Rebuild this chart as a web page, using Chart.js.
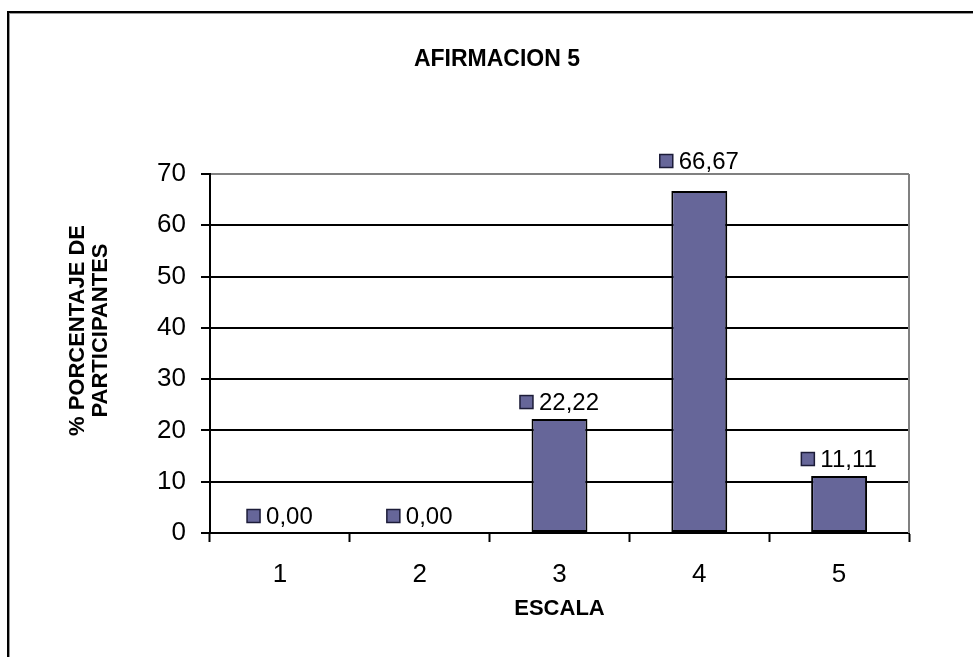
<!DOCTYPE html>
<html>
<head>
<meta charset="utf-8">
<script src="https://cdn.jsdelivr.net/npm/chart.js@4/dist/chart.umd.min.js"></script>
<style>
  html, body { margin: 0; padding: 0; background: #fff; }
  #wrap { position: relative; width: 973px; height: 657px; overflow: hidden; }
  #frame { position: absolute; left: 7px; top: 11px; width: 1200px; height: 900px;
           border-left: 2px solid #000; border-top: 2px solid #000;
           box-shadow: inset 1px 1px 0 #999; }
  canvas { position: absolute; left: 0; top: 0; }
</style>
</head>
<body>
<div id="wrap">
  <div id="frame"></div>
  <canvas id="c" width="973" height="657"></canvas>
</div>
<script>
const chartTitle = 'AFIRMACION 5';
const xAxisTitle = 'ESCALA';
const yAxisTitleLines = ['% PORCENTAJE DE', 'PARTICIPANTES'];
const categories = ['1', '2', '3', '4', '5'];
const percentValues = [0.00, 0.00, 22.22, 66.67, 11.11];
const yTickMin = 0;
const yTickMax = 70;
const yTickStep = 10;

const BAR_FILL = '#666699';
const FONT = '"Liberation Sans", Arial, sans-serif';

function fmt(v) { return v.toFixed(2).replace('.', ','); }

const decorPlugin = {
  id: 'decor',
  afterDraw(chart) {
    const ctx = chart.ctx;
    const a = chart.chartArea;
    ctx.save();
    // right border of plot area (gray)
    ctx.strokeStyle = '#808080';
    ctx.lineWidth = 2;
    ctx.beginPath();
    ctx.moveTo(a.right, a.top);
    ctx.lineTo(a.right, a.bottom);
    ctx.stroke();

    // chart title
    ctx.fillStyle = '#000';
    ctx.textAlign = 'center';
    ctx.textBaseline = 'middle';
    ctx.font = 'bold 23px ' + FONT;
    ctx.fillText(chartTitle, 497, 60);

    // x axis title
    ctx.font = 'bold 22px ' + FONT;
    ctx.fillText(xAxisTitle, (a.left + a.right) / 2, a.bottom + 76);

    // y axis title (rotated, two lines)
    ctx.save();
    ctx.translate(a.left - 121, (a.top + a.bottom) / 2 - 23);
    ctx.rotate(-Math.PI / 2);
    ctx.fillText(yAxisTitleLines[0], 0, -11);
    ctx.fillText(yAxisTitleLines[1], 0, 12);
    ctx.restore();

    // data labels with legend key square
    const meta = chart.getDatasetMeta(0);
    ctx.font = '24px ' + FONT;
    ctx.textAlign = 'left';
    ctx.textBaseline = 'middle';
    const half = 9;
    meta.data.forEach((bar, i) => {
      const txt = fmt(percentValues[i]);
      const tw = ctx.measureText(txt).width;
      const sq = 13, gap = 6;
      const total = sq + gap + tw;
      const x0 = bar.x - total / 2;
      let cy = bar.y - 17;
      // keep label clear of the plot's top border
      if (cy - half < a.top + 2 && cy + half > a.top - 2) cy = a.top - 13;
      ctx.fillStyle = BAR_FILL;
      ctx.fillRect(x0, cy - sq / 2, sq, sq);
      ctx.strokeStyle = '#1c1c38';
      ctx.lineWidth = 1.5;
      ctx.strokeRect(x0, cy - sq / 2, sq, sq);
      ctx.fillStyle = '#000';
      ctx.fillText(txt, x0 + sq + gap, cy + 1);
    });
    ctx.restore();
  }
};

new Chart(document.getElementById('c'), {
  type: 'bar',
  data: {
    labels: categories,
    datasets: [{
      data: percentValues,
      backgroundColor: BAR_FILL,
      borderColor: '#000',
      borderWidth: 2,
      borderSkipped: false,
      barPercentage: 0.4,
      categoryPercentage: 1.0
    }]
  },
  options: {
    responsive: false,
    animation: false,
    devicePixelRatio: 1,
    layout: { padding: { top: 174, right: 64, left: 0, bottom: 0 } },
    plugins: {
      legend: { display: false },
      title: { display: false },
      tooltip: { enabled: false }
    },
    scales: {
      x: {
        offset: true,
        grid: {
          offset: true,
          drawOnChartArea: false,
          drawTicks: true,
          tickLength: 9,
          tickColor: '#000',
          tickWidth: 2
        },
        border: { display: true, color: '#000', width: 2 },
        ticks: {
          color: '#000',
          font: { family: FONT, size: 26 },
          padding: 17,
          maxRotation: 0
        },
        afterFit(scale) { scale.height = 124; }
      },
      y: {
        min: yTickMin,
        max: yTickMax,
        grid: {
          color: (c) => (c.tick && c.tick.value === yTickMax) ? '#808080' : '#000',
          lineWidth: 2,
          drawTicks: true,
          tickLength: 9,
          tickColor: '#000',
          tickWidth: 2
        },
        border: { display: true, color: '#000', width: 2 },
        ticks: {
          stepSize: yTickStep,
          color: '#000',
          font: { family: FONT, size: 26 },
          padding: 15
        },
        afterFit(scale) { scale.width = 210; }
      }
    }
  },
  plugins: [decorPlugin]
});
</script>
</body>
</html>
